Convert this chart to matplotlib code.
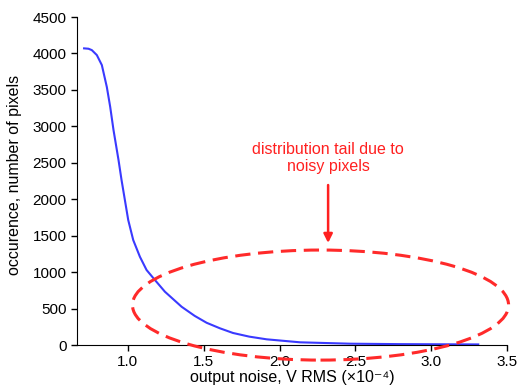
import matplotlib
matplotlib.use("Agg")
import matplotlib.pyplot as plt
from matplotlib.patches import Ellipse

plt.rcParams['font.family'] = ['Liberation Sans', 'DejaVu Sans']

noise = [0.711, 0.74, 0.762, 0.795, 0.828, 0.861, 0.883, 0.905, 0.938, 0.958,
         0.98, 1.002, 1.035, 1.079, 1.123, 1.178, 1.244, 1.354, 1.44, 1.519,
         1.607, 1.693, 1.8, 1.915, 2.135, 2.465, 2.795, 3.05, 3.31]
count = [4070, 4065, 4046, 3978, 3841, 3539, 3269, 2949, 2538, 2263,
         1989, 1715, 1440, 1211, 1029, 892, 731, 525, 400, 305,
         229, 165, 115, 78, 37, 18, 12, 10, 8]

xticks = [1.0, 1.5, 2.0, 2.5, 3.0, 3.5]
yticks = [0, 500, 1000, 1500, 2000, 2500, 3000, 3500, 4000, 4500]

fig = plt.figure(figsize=(5.19, 3.87), dpi=100)
ax = fig.add_axes([0.148, 0.1085, 0.829, 0.8475])

ax.plot(noise, count, color='#3a3aff', lw=1.5, solid_joinstyle='round')

ell = Ellipse((2.27, 548), 2.48, 1510, fill=False, edgecolor='#ff2a2a',
              lw=2.2, ls=(0, (5, 2.5)), clip_on=False, zorder=3)
ax.add_patch(ell)

ax.annotate('', xy=(2.32, 1400), xytext=(2.32, 2195),
            arrowprops=dict(arrowstyle='-|>', color='#ff2020', lw=1.8,
                            mutation_scale=13, shrinkA=0, shrinkB=0))
ax.text(2.32, 2565, 'distribution tail due to\nnoisy pixels', color='#ff2020',
        ha='center', va='center', fontsize=11.5, linespacing=1.2)

ax.set_xlim(0.663, 3.5)
ax.set_ylim(0, 4500)
ax.set_xticks(xticks)
ax.set_xticklabels([f'{t:.1f}' for t in xticks])
ax.set_yticks(yticks)
ax.spines['top'].set_visible(False)
ax.spines['right'].set_visible(False)
ax.tick_params(labelsize=11, length=4, width=1, direction='out')
ax.tick_params(axis='x', pad=3)
ax.set_xlabel('output noise, V RMS (×10⁻⁴)', fontsize=11.5)
ax.set_ylabel('occurence, number of pixels', fontsize=11.5)
ax.xaxis.set_label_coords(0.5, -0.075)
ax.yaxis.set_label_coords(-0.128, 0.518)

fig.savefig('out.png', dpi=100)
